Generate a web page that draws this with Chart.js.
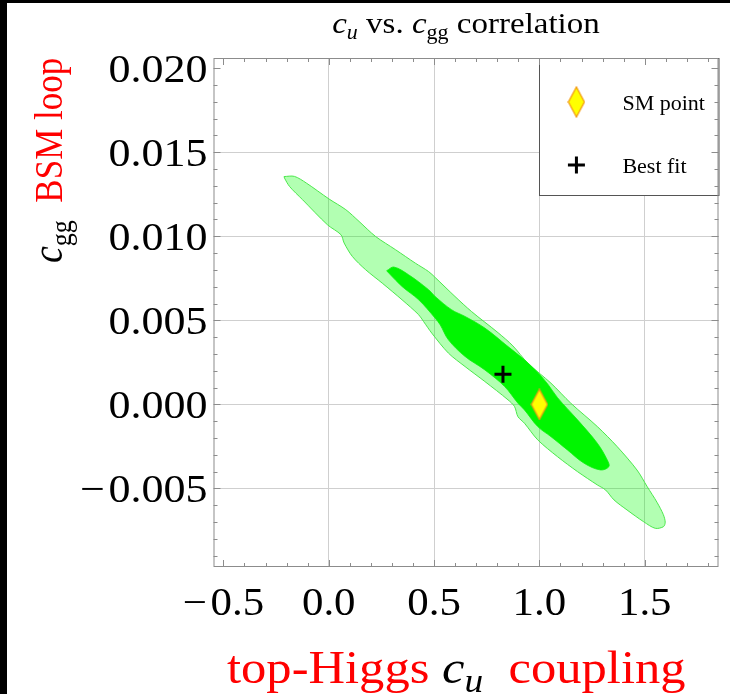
<!DOCTYPE html>
<html>
<head>
<meta charset="utf-8">
<title>c_u vs. c_gg correlation</title>
<script src="https://cdn.jsdelivr.net/npm/chart.js@4.4.0/dist/chart.umd.min.js"></script>
<style>
  html, body { margin: 0; padding: 0; background: #fff; }
  canvas { display: block; }
</style>
</head>
<body>
<canvas id="chart" width="730" height="694"></canvas>
<script>
// c_u vs c_gg correlation - 68% / 95% contours with SM point and best fit

// outer (light) contour, traced round from the upper-left tip
const outerCu = [-0.212, -0.163, -0.107, 0.002, 0.081, 0.144, 0.222, 0.317, 0.411, 0.474, 0.505, 0.599, 0.678, 0.804, 0.874, 0.945, 1.055, 1.149, 1.275, 1.369, 1.463, 1.512, 1.558, 1.588, 1.597, 1.589,
  1.550, 1.495, 1.416, 1.354, 1.314, 1.275, 1.181, 1.086, 0.992, 0.929, 0.898, 0.882, 0.851, 0.741, 0.647, 0.568, 0.489, 0.450, 0.427, 0.348, 0.254, 0.175, 0.112, 0.073, 0.058, -0.006, -0.124, -0.186, -0.210, -0.212];
const outerCgg = [0.01355, 0.01356, 0.01317, 0.01221, 0.01158, 0.01088, 0.00999, 0.00920, 0.00840, 0.00790, 0.00755, 0.00642, 0.00552, 0.00426, 0.00348, 0.00245, 0.00126, 0.00007, -0.00132, -0.00251, -0.00390, -0.00490, -0.00582, -0.00655, -0.00700, -0.00727,
  -0.00737, -0.00698, -0.00628, -0.00568, -0.00509, -0.00479, -0.00400, -0.00311, -0.00211, -0.00112, -0.00073, -0.00013, 0.00027, 0.00136, 0.00225, 0.00305, 0.00424, 0.00493, 0.00533, 0.00622, 0.00721, 0.00801, 0.00880, 0.00960, 0.01009, 0.01068, 0.01217, 0.01296, 0.01346, 0.01355];

// inner (dark) contour
const innerCu = [0.275, 0.309, 0.379, 0.474, 0.505, 0.583, 0.647, 0.741, 0.851, 0.929, 0.992, 1.040, 1.086, 1.181, 1.275, 1.322, 1.330,
  1.290, 1.212, 1.133, 1.055, 0.992, 0.929, 0.898, 0.835, 0.741, 0.647, 0.568, 0.529, 0.505, 0.427, 0.348, 0.285, 0.275];
const innerCgg = [0.00795, 0.00817, 0.00771, 0.00682, 0.00642, 0.00563, 0.00523, 0.00454, 0.00344, 0.00265, 0.00190, 0.00120, 0.00040, -0.00092, -0.00231, -0.00330, -0.00370,
  -0.00390, -0.00350, -0.00271, -0.00192, -0.00132, -0.00033, 0.00007, 0.00106, 0.00205, 0.00285, 0.00384, 0.00473, 0.00513, 0.00622, 0.00701, 0.00781, 0.00795];

const smPoint = [1.0, 0.0];
const bestFit = [0.827, 0.0018];

const xTickValues = [-0.5, 0.0, 0.5, 1.0, 1.5];
const yTickValues = [-0.005, 0.000, 0.005, 0.010, 0.015, 0.020];
const xGridValues = [0.0, 0.5, 1.0, 1.5];
const yGridValues = [-0.005, 0.000, 0.005, 0.010, 0.015];
const legendLabels = ['SM point', 'Best fit'];

const xRange = [-0.547, 1.85];
const yRange = [-0.00967, 0.0206];

const SERIF = '"Liberation Serif", "Times New Roman", serif';
const FRAME = '#8c8c8c';

function toPoints(xs, ys) {
  return xs.map((x, i) => ({ x: x, y: ys[i] }));
}

// tall yellow diamond used for the SM point
function makeDiamond(w, h) {
  const c = document.createElement('canvas');
  c.width = w + 2;
  c.height = h + 2;
  const g = c.getContext('2d');
  g.beginPath();
  g.moveTo(c.width / 2, 1);
  g.lineTo(c.width - 1, c.height / 2);
  g.lineTo(c.width / 2, c.height - 1);
  g.lineTo(1, c.height / 2);
  g.closePath();
  g.fillStyle = '#ffff00';
  g.fill();
  g.strokeStyle = '#f39c12';
  g.lineWidth = 1.3;
  g.stroke();
  return c;
}
const diamond = makeDiamond(16, 30);

function font(size, italic) {
  return (italic ? 'italic ' : '') + size + 'px ' + SERIF;
}

// draw text made of several runs (italic symbol, subscript, coloured words)
function drawRich(ctx, parts, x, y, align, sx, sy) {
  sy = sy || 1;
  let width = 0;
  parts.forEach(p => {
    ctx.font = font(p.size, p.italic);
    p.w = ctx.measureText(p.text).width;
    width += p.w;
  });
  const x0 = align === 'center' ? x - width * sx / 2 : (align === 'right' ? x - width * sx : x);
  ctx.save();
  ctx.translate(x0, y);
  ctx.scale(sx, sy);
  ctx.textAlign = 'left';
  ctx.textBaseline = 'alphabetic';
  let cx = 0;
  parts.forEach(p => {
    ctx.font = font(p.size, p.italic);
    ctx.fillStyle = p.color || '#000';
    ctx.fillText(p.text, cx, p.dy || 0);
    cx += p.w;
  });
  ctx.restore();
}

function fmtTick(v, digits) {
  const s = Math.abs(v).toFixed(digits);
  return v < -1e-12 ? '\u2212\u200a' + s : s;
}

const framePlugin = {
  id: 'frame',
  beforeDraw(chart) {
    const ctx = chart.ctx;
    ctx.save();
    ctx.fillStyle = '#fff';
    ctx.fillRect(0, 0, chart.width, chart.height);
    ctx.restore();
  },
  afterDatasetsDraw(chart) {
    const ctx = chart.ctx;
    const a = chart.chartArea;
    const xs = chart.scales.x;
    const ys = chart.scales.y;

    // legend box in the upper right corner
    const lx = xs.getPixelForValue(1.0);
    const lb = a.top + 137;
    ctx.save();
    ctx.fillStyle = '#fff';
    ctx.fillRect(lx, a.top, a.right - lx, lb - a.top);
    ctx.strokeStyle = '#555';
    ctx.lineWidth = 1;
    ctx.strokeRect(Math.round(lx) + 0.5, a.top + 0.5, a.right - Math.round(lx), lb - a.top);
    ctx.drawImage(diamond, lx + 37 - diamond.width / 2, a.top + 44 - diamond.height / 2);
    ctx.strokeStyle = '#000';
    ctx.lineWidth = 3;
    ctx.beginPath();
    ctx.moveTo(lx + 37 - 8.5, a.top + 107);
    ctx.lineTo(lx + 37 + 8.5, a.top + 107);
    ctx.moveTo(lx + 37, a.top + 107 - 8.5);
    ctx.lineTo(lx + 37, a.top + 107 + 8.5);
    ctx.stroke();
    ctx.restore();
    drawRich(ctx, [{ text: legendLabels[0], size: 22 }], lx + 83, a.top + 52, 'left', 1);
    drawRich(ctx, [{ text: legendLabels[1], size: 22 }], lx + 83, a.top + 115, 'left', 1);

    // frame and inward ticks on all four sides
    ctx.save();
    ctx.strokeStyle = FRAME;
    ctx.lineWidth = 1;
    ctx.strokeRect(a.left + 0.5, a.top + 0.5, a.right - a.left - 1, a.bottom - a.top - 1);
    ctx.beginPath();
    for (let i = -5; i <= 18; i++) {
      const px = Math.round(xs.getPixelForValue(i / 10)) + 0.5;
      const len = i % 5 === 0 ? 7 : 4;
      ctx.moveTo(px, a.bottom);
      ctx.lineTo(px, a.bottom - len);
      ctx.moveTo(px, a.top);
      ctx.lineTo(px, a.top + len);
    }
    for (let j = -9; j <= 20; j++) {
      const py = Math.round(ys.getPixelForValue(j / 1000)) + 0.5;
      const len = j % 5 === 0 ? 7 : 4;
      ctx.moveTo(a.left, py);
      ctx.lineTo(a.left + len, py);
      ctx.moveTo(a.right, py);
      ctx.lineTo(a.right - len, py);
    }
    ctx.stroke();
    ctx.restore();

    // tick labels
    xTickValues.forEach(v => {
      drawRich(ctx, [{ text: fmtTick(v, 1), size: 39 }], xs.getPixelForValue(v), a.bottom + 48, 'center', 1.1);
    });
    yTickValues.forEach(v => {
      drawRich(ctx, [{ text: fmtTick(v, 3), size: 40 }], a.left - 6, ys.getPixelForValue(v) + 14, 'right', 1.1);
    });

    // title
    drawRich(ctx, [
      { text: 'c', size: 30, italic: true },
      { text: 'u', size: 20, italic: true, dy: 6 },
      { text: ' vs. ', size: 30 },
      { text: 'c', size: 30, italic: true },
      { text: 'gg', size: 20, dy: 6 },
      { text: ' correlation', size: 30 }
    ], (a.left + a.right) / 2, 33, 'center', 1.1);

    // x axis label
    drawRich(ctx, [
      { text: 'top-Higgs ', size: 46, color: '#ff0000' },
      { text: 'c', size: 46, italic: true },
      { text: 'u', size: 34, italic: true, dy: 9 },
      { text: '  coupling', size: 46, color: '#ff0000' }
    ], 227, 683, 'left', 1.1);

    // y axis label, reading upwards
    ctx.save();
    ctx.translate(62, 263);
    ctx.rotate(-Math.PI / 2);
    drawRich(ctx, [
      { text: 'c', size: 38, italic: true },
      { text: 'gg', size: 26, dy: 8 },
      { text: '  BSM loop', size: 35, color: '#ff0000' }
    ], 0, 0, 'left', 1.0, 1.15);
    ctx.restore();

    // dark edge of the original screenshot
    ctx.save();
    ctx.fillStyle = '#000';
    ctx.fillRect(0, 0, 7, chart.height);
    ctx.fillRect(0, 0, chart.width, 3);
    ctx.restore();
  }
};

const gridColor = (values) => (c) => {
  const v = c.tick ? c.tick.value : NaN;
  return values.some(g => Math.abs(g - v) < 1e-9) ? '#cfcfcf' : 'rgba(0,0,0,0)';
};

new Chart(document.getElementById('chart'), {
  type: 'scatter',
  data: {
    datasets: [
      {
        label: legendLabels[0],
        data: [{ x: smPoint[0], y: smPoint[1] }],
        pointStyle: diamond,
        pointRadius: 10,
        order: 1
      },
      {
        label: legendLabels[1],
        data: [{ x: bestFit[0], y: bestFit[1] }],
        pointStyle: 'cross',
        pointRadius: 8.5,
        borderColor: '#000',
        borderWidth: 3,
        order: 2
      },
      {
        label: '68%',
        data: toPoints(innerCu, innerCgg),
        showLine: true,
        tension: 0.35,
        pointRadius: 0,
        borderColor: '#10f010',
        borderWidth: 0.8,
        backgroundColor: '#00f500',
        fill: 'shape',
        order: 3
      },
      {
        label: '95%',
        data: toPoints(outerCu, outerCgg),
        showLine: true,
        tension: 0.3,
        pointRadius: 0,
        borderColor: '#4ce84c',
        borderWidth: 1,
        backgroundColor: 'rgba(0,255,0,0.3)',
        fill: 'shape',
        order: 4
      }
    ]
  },
  options: {
    responsive: false,
    animation: false,
    events: [],
    layout: { padding: { top: 58, right: 8, bottom: 0, left: 0 } },
    plugins: {
      legend: { display: false },
      title: { display: false },
      tooltip: { enabled: false }
    },
    scales: {
      x: {
        type: 'linear',
        min: xRange[0],
        max: xRange[1],
        afterBuildTicks: s => { s.ticks = xTickValues.map(v => ({ value: v })); },
        afterFit: s => { s.height = 127; },
        ticks: { display: false },
        border: { display: false },
        grid: { color: gridColor(xGridValues), lineWidth: 1, drawTicks: false }
      },
      y: {
        type: 'linear',
        min: yRange[0],
        max: yRange[1],
        afterBuildTicks: s => { s.ticks = yTickValues.map(v => ({ value: v })); },
        afterFit: s => { s.width = 213.5; },
        ticks: { display: false },
        border: { display: false },
        grid: { color: gridColor(yGridValues), lineWidth: 1, drawTicks: false }
      }
    }
  },
  plugins: [framePlugin]
});
</script>
</body>
</html>
